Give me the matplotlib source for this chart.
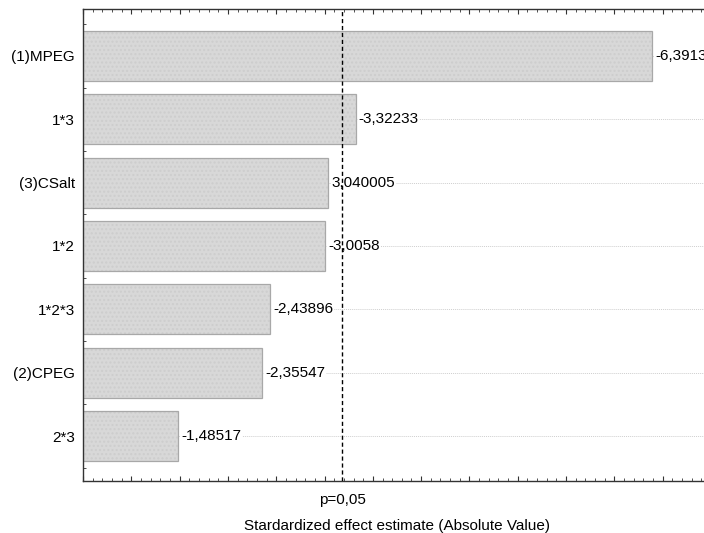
import numpy as np
import matplotlib.pyplot as plt
from matplotlib.ticker import MultipleLocator
import matplotlib.transforms as mtransforms

plt.rcParams['font.family'] = ['Liberation Sans', 'DejaVu Sans']

# effects, sorted as in the Pareto chart (top to bottom)
effects = ['(1)MPEG', '1*3', '(3)CSalt', '1*2', '1*2*3', '(2)CPEG', '2*3']
abs_values = [6.3913, 3.32233, 3.040005, 3.0058, 2.43896, 2.35547, 1.48517]
value_labels = ['-6,3913', '-3,32233', '3,040005', '-3,0058', '-2,43896', '-2,35547', '-1,48517']
p_crit = 3.182446  # t(0.025, df=3)

fig = plt.figure(figsize=(7.04, 5.33), dpi=100)
ax = fig.add_axes([83 / 704, 52 / 533, 628 / 704, 472 / 533])

y = np.arange(len(effects))
for yi in y:
    ax.axhline(yi, color='#cfcfcf', lw=0.7, ls=(0, (1, 1)), zorder=0)

# textured fill, then outline on top
ax.barh(y, abs_values, height=0.79, color='#d8d8d8', edgecolor='#cdcdcd',
        linewidth=0, hatch='....', zorder=2)
ax.barh(y, abs_values, height=0.79, fill=False, edgecolor='#a8a8a8',
        linewidth=0.9, zorder=2.1)

for yi, v, lab in zip(y, abs_values, value_labels):
    ax.text(v + 0.03, yi, lab, va='center', ha='left', fontsize=11,
            bbox=dict(boxstyle='square,pad=0.05', fc='white', ec='none'),
            zorder=3)

ax.axvline(p_crit, color='black', lw=1.0, ls=(0, (3, 2)), zorder=4)

ax.set_xlim(0.5, 7.0)
ax.set_ylim(6.71, -0.74)
ax.set_yticks(y)
ax.set_yticklabels(effects, fontsize=11)
ax.yaxis.set_minor_locator(MultipleLocator(0.25))
ax.xaxis.set_major_locator(MultipleLocator(0.5))
ax.xaxis.set_minor_locator(MultipleLocator(0.1))
ax.set_xticklabels([])
ax.tick_params(axis='x', which='both', direction='in', top=True, bottom=True,
               color='#333333')
ax.tick_params(axis='x', which='major', length=3.5, width=0.8)
ax.tick_params(axis='x', which='minor', length=2, width=0.6)
ax.tick_params(axis='y', which='both', direction='in', left=True, right=False,
               color='#333333')
ax.tick_params(axis='y', which='major', length=3.5, width=0.8, pad=6)
ax.tick_params(axis='y', which='minor', length=2, width=0.6)
for s in ax.spines.values():
    s.set_color('#333333')
    s.set_linewidth(1.0)

trans = mtransforms.blended_transform_factory(ax.transData, ax.transAxes)
ax.text(p_crit, -0.025, 'p=0,05', transform=trans, ha='center', va='top',
        fontsize=11)
fig.text(0.5645, 3 / 533, 'Stardardized effect estimate (Absolute Value)',
         ha='center', va='baseline', fontsize=11)

fig.savefig('out.png', dpi=100)
